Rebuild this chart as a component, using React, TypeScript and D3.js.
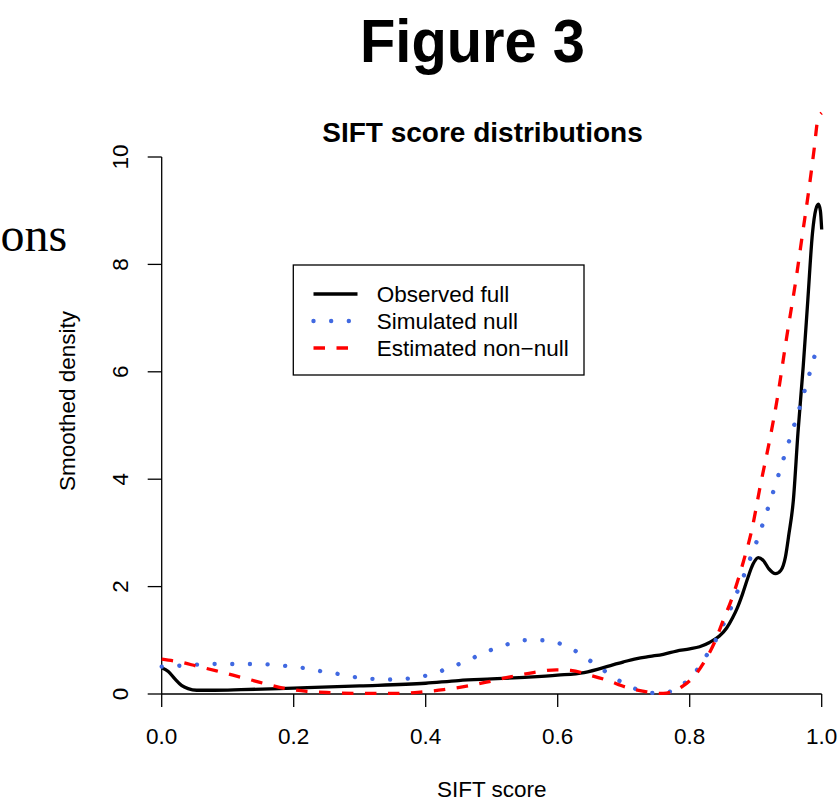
import React from "react";
import * as d3 from "d3";

// ---- data ----
const xTicks = [0, 0.2, 0.4, 0.6, 0.8, 1.0];
const xTickLabels = ["0.0", "0.2", "0.4", "0.6", "0.8", "1.0"];
const yTicks = [0, 2, 4, 6, 8, 10];
const yTickLabels = ["0", "2", "4", "6", "8", "10"];

const seriesNames = ["Observed full", "Simulated null", "Estimated non\u2212null"];

const observedScore = [0.0, 0.01, 0.02, 0.03, 0.04, 0.053, 0.08, 0.12, 0.2, 0.3, 0.4, 0.45, 0.5, 0.55, 0.6, 0.64, 0.68, 0.7, 0.72, 0.74, 0.76, 0.78, 0.8, 0.815, 0.83, 0.845, 0.856, 0.865, 0.872, 0.88, 0.888, 0.896, 0.904, 0.912, 0.92, 0.93, 0.938, 0.945, 0.95, 0.957, 0.964, 0.972, 0.979, 0.986, 0.991, 0.995, 0.998, 1.0];
const observedDensity = [0.49, 0.42, 0.28, 0.16, 0.1, 0.07, 0.07, 0.08, 0.11, 0.15, 0.2, 0.25, 0.28, 0.31, 0.35, 0.4, 0.53, 0.6, 0.66, 0.7, 0.74, 0.8, 0.84, 0.88, 0.96, 1.08, 1.23, 1.42, 1.6, 1.86, 2.16, 2.42, 2.54, 2.48, 2.33, 2.24, 2.3, 2.55, 2.95, 3.6, 4.86, 6.1, 7.34, 8.58, 9.02, 9.12, 9.0, 8.65];

const nullScore = [0.0, 0.031, 0.058, 0.084, 0.111, 0.137, 0.164, 0.19, 0.217, 0.243, 0.269, 0.295, 0.322, 0.348, 0.375, 0.4, 0.426, 0.451, 0.475, 0.499, 0.525, 0.551, 0.577, 0.603, 0.627, 0.649, 0.671, 0.693, 0.717, 0.742, 0.768, 0.792, 0.81, 0.824, 0.838, 0.85, 0.861, 0.871, 0.881, 0.89, 0.9, 0.917, 0.933, 0.949, 0.965, 0.98, 0.99];
const nullDensity = [0.51, 0.53, 0.55, 0.56, 0.56, 0.56, 0.55, 0.52, 0.48, 0.42, 0.37, 0.31, 0.28, 0.27, 0.29, 0.34, 0.44, 0.56, 0.69, 0.82, 0.93, 1.0, 1.0, 0.94, 0.8, 0.62, 0.43, 0.25, 0.1, 0.02, 0.04, 0.2, 0.43, 0.69, 0.97, 1.27, 1.56, 1.87, 2.17, 2.47, 2.79, 3.4, 4.02, 4.65, 5.27, 5.9, 6.33];

const nonNullScore = [0.0, 0.03, 0.053, 0.083, 0.108, 0.13, 0.154, 0.189, 0.22, 0.255, 0.305, 0.356, 0.396, 0.427, 0.46, 0.492, 0.528, 0.563, 0.598, 0.62, 0.649, 0.674, 0.705, 0.735, 0.76, 0.775, 0.79, 0.81, 0.826, 0.838, 0.851, 0.864, 0.881, 0.894, 0.907, 0.922, 0.932, 0.947, 0.962, 0.97, 0.98, 0.989, 0.994, 1.0];
const nonNullDensity = [0.65, 0.59, 0.52, 0.43, 0.35, 0.28, 0.2, 0.1, 0.05, 0.025, 0.01, 0.01, 0.04, 0.08, 0.14, 0.22, 0.32, 0.4, 0.45, 0.44, 0.35, 0.26, 0.12, 0.04, 0.01, 0.05, 0.15, 0.38, 0.68, 0.97, 1.38, 1.78, 2.45, 3.05, 3.88, 4.78, 5.45, 6.65, 7.8, 8.49, 9.34, 10.19, 10.69, 10.82];

const FONT = "'Liberation Sans', Arial, Helvetica, sans-serif";

export default function App() {
  const width = 839;
  const height = 806;
  const x = d3.scaleLinear().domain([0, 1]).range([161.7, 821.7]);
  const y = d3.scaleLinear().domain([0, 10]).range([694, 157]);

  const line = d3
    .line<[number, number]>()
    .x((d) => x(d[0]))
    .y((d) => y(d[1]))
    .curve(d3.curveMonotoneX);

  const zip = (a: number[], b: number[]) => a.map((v, i) => [v, b[i]] as [number, number]);

  const observedPath = line(zip(observedScore, observedDensity)) || "";
  const nullPath = line(zip(nullScore, nullDensity)) || "";
  const nonNullPath = line(zip(nonNullScore, nonNullDensity)) || "";

  const styles = [
    { stroke: "#000000", width: 3.3, dash: undefined as string | undefined, cap: "butt" },
    { stroke: "#4169E1", width: 4.4, dash: "0.01 17.65", cap: "round" },
    { stroke: "#FF0000", width: 3.3, dash: "11.5 11.5", cap: "butt" },
  ];

  const legendX0 = 313.5;
  const legendX1 = 357.5;
  const legendRowY = [294, 321, 348];

  return (
    <svg
      width={width}
      height={height}
      style={{ position: "absolute", left: 0, top: 0, background: "#fff" }}
      fontFamily={FONT}
    >
      <rect x={0} y={0} width={width} height={height} fill="#fff" />
      {/* page header */}
      <text
        x={472.5}
        y={62}
        textAnchor="middle"
        fontSize={62}
        fontWeight="bold"
        textLength={225}
        lengthAdjust="spacingAndGlyphs"
        fill="#000"
      >
        Figure 3
      </text>
      <text
        x={0.5}
        y={250.5}
        textAnchor="start"
        fontSize={48}
        fontFamily="'Liberation Serif', 'Times New Roman', serif"
        fill="#000"
      >
        ons
      </text>

      {/* title */}
      <text x={482.5} y={141.7} textAnchor="middle" fontSize={28} fontWeight="bold" fill="#000">
        SIFT score distributions
      </text>

      {/* axes */}
      <g stroke="#000" strokeWidth={1.3} fill="none">
        <line x1={x(0)} x2={x(1)} y1={y(0)} y2={y(0)} />
        {xTicks.map((t) => (
          <line key={"xt" + t} x1={x(t)} x2={x(t)} y1={y(0)} y2={y(0) + 13} />
        ))}
        <line x1={x(0)} x2={x(0)} y1={y(0)} y2={y(10)} />
        {yTicks.map((t) => (
          <line key={"yt" + t} x1={x(0)} x2={x(0) - 14} y1={y(t)} y2={y(t)} />
        ))}
      </g>
      <g fontSize={22.5} fill="#000">
        {xTicks.map((t, i) => (
          <text key={"xl" + t} x={x(t)} y={744} textAnchor="middle">
            {xTickLabels[i]}
          </text>
        ))}
        {yTicks.map((t, i) => (
          <text key={"yl" + t} transform={`translate(128,${y(t)}) rotate(-90)`} textAnchor="middle">
            {yTickLabels[i]}
          </text>
        ))}
        <text x={491.7} y={797} textAnchor="middle">
          SIFT score
        </text>
        <text transform="translate(75,401) rotate(-90)" textAnchor="middle">
          Smoothed density
        </text>
      </g>

      {/* curves */}
      <g fill="none">
        <path d={observedPath} stroke={styles[0].stroke} strokeWidth={styles[0].width} strokeLinejoin="round" />
        <path
          d={nullPath}
          stroke={styles[1].stroke}
          strokeWidth={styles[1].width}
          strokeDasharray={styles[1].dash}
          strokeLinecap="round"
        />
        <path
          d={nonNullPath}
          stroke={styles[2].stroke}
          strokeWidth={styles[2].width}
          strokeDasharray={styles[2].dash}
          strokeLinejoin="round"
        />
      </g>

      {/* legend */}
      <rect x={293.3} y={265} width={290.7} height={110} fill="#fff" stroke="#000" strokeWidth={1.3} />
      {seriesNames.map((name, i) => (
        <g key={name}>
          <line
            x1={legendX0}
            x2={legendX1}
            y1={legendRowY[i]}
            y2={legendRowY[i]}
            stroke={styles[i].stroke}
            strokeWidth={styles[i].width}
            strokeDasharray={styles[i].dash}
            strokeLinecap={styles[i].cap as any}
          />
          <text x={376.7} y={legendRowY[i] + 7.7} fontSize={22.5} fill="#000">
            {name}
          </text>
        </g>
      ))}
    </svg>
  );
}
